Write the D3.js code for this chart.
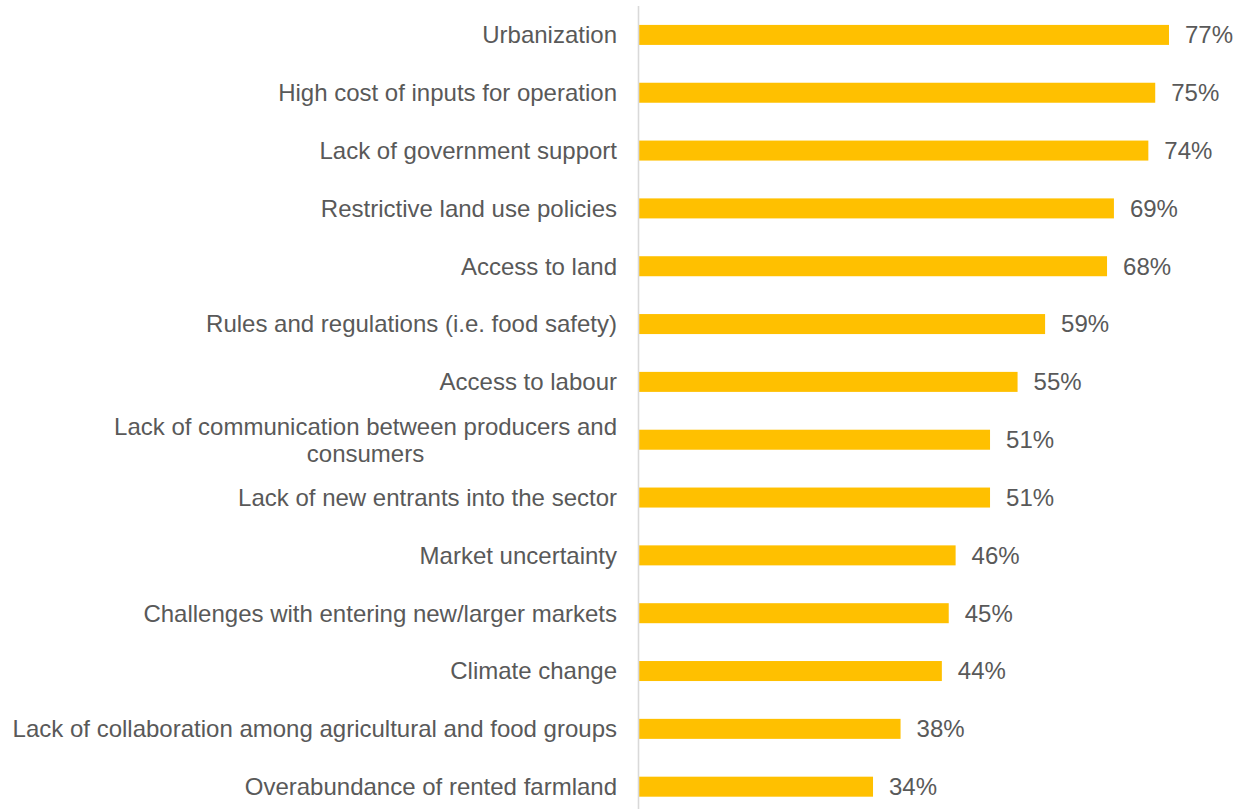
<!DOCTYPE html>
<html>
<head>
<meta charset="utf-8">
<script src="https://cdn.jsdelivr.net/npm/d3@7"></script>
<style>
  html, body { margin: 0; padding: 0; background: #ffffff; }
  svg { display: block; }
  text { font-family: "Liberation Sans", Arial, sans-serif; }
</style>
</head>
<body>
<svg id="chart" width="1242" height="809"></svg>
<script>
const categories = [
  ["Urbanization"],
  ["High cost of inputs for operation"],
  ["Lack of government support"],
  ["Restrictive land use policies"],
  ["Access to land"],
  ["Rules and regulations (i.e. food safety)"],
  ["Access to labour"],
  ["Lack of communication between producers and", "consumers"],
  ["Lack of new entrants into the sector"],
  ["Market uncertainty"],
  ["Challenges with entering new/larger markets"],
  ["Climate change"],
  ["Lack of collaboration among agricultural and food groups"],
  ["Overabundance of rented farmland"]
];
const values = [77, 75, 74, 69, 68, 59, 55, 51, 51, 46, 45, 44, 38, 34];
const valueLabels = values.map(v => v + "%");

const W = 1242, H = 809;
const axisX = 639;
const svg = d3.select("#chart");

const keys = categories.map((c, i) => i);
const y = d3.scaleBand().domain(keys).range([6, 815.6]).paddingInner(0.654).paddingOuter(0.327);
const x = d3.scaleLinear().domain([0, 100]).range([axisX, axisX + 688.3]);

const fontSize = 24;
const textColor = "#595959";

// bars
svg.append("g").selectAll("rect")
  .data(values)
  .join("rect")
  .attr("x", x(0))
  .attr("y", (d, i) => y(i))
  .attr("width", d => x(d) - x(0))
  .attr("height", y.bandwidth())
  .attr("fill", "#FFC000");

// axis line
svg.append("line")
  .attr("x1", axisX - 0.5).attr("x2", axisX - 0.5)
  .attr("y1", 6).attr("y2", H)
  .attr("stroke", "#d9d9d9").attr("stroke-width", 1.6);

// value labels
svg.append("g").selectAll("text")
  .data(values)
  .join("text")
  .attr("x", d => x(d) + 16)
  .attr("y", (d, i) => y(i) + y.bandwidth() / 2)
  .attr("dy", "0.35em")
  .attr("font-size", fontSize)
  .attr("fill", textColor)
  .text((d, i) => valueLabels[i]);

// category labels
const labelRight = 617;
const lineH = 27;
const gCat = svg.append("g");
categories.forEach((lines, i) => {
  const cy = y(i) + y.bandwidth() / 2;
  const n = lines.length;
  const first = gCat.append("text")
    .attr("x", labelRight)
    .attr("y", cy - (n - 1) * lineH / 2)
    .attr("dy", "0.35em")
    .attr("text-anchor", "end")
    .attr("font-size", fontSize)
    .attr("fill", textColor)
    .text(lines[0]);
  if (n > 1) {
    const w = first.node().getComputedTextLength();
    for (let k = 1; k < n; k++) {
      gCat.append("text")
        .attr("x", labelRight - w / 2)
        .attr("y", cy - (n - 1) * lineH / 2 + k * lineH)
        .attr("dy", "0.35em")
        .attr("text-anchor", "middle")
        .attr("font-size", fontSize)
        .attr("fill", textColor)
        .text(lines[k]);
    }
  }
});
</script>
</body>
</html>
